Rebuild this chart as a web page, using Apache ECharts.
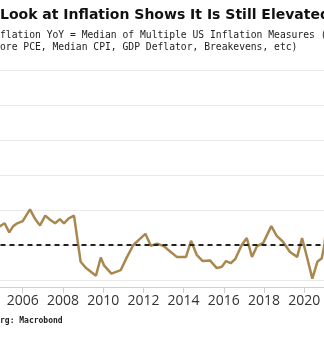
<!DOCTYPE html>
<html>
<head>
<meta charset="utf-8">
<style>html,body{margin:0;padding:0;background:#fff;}#c{width:324px;height:339px;}</style>
<script src="https://cdn.jsdelivr.net/npm/echarts@6/dist/echarts.min.js"></script>
</head>
<body>
<div id="c"></div>
<script>
const titleText = "Look at Inflation Shows It Is Still Elevated";
const subtitle1 = "flation YoY = Median of Multiple US Inflation Measures (";
const subtitle2 = "ore PCE, Median CPI, GDP Deflator, Breakevens, etc)";
const sourceText = "rg: Macrobond";

const dates = [2004.6, 2004.87, 2005.10, 2005.33, 2005.53, 2005.73, 2006.00, 2006.36, 2006.60, 2006.86,
  2007.12, 2007.36, 2007.61, 2007.85, 2008.05, 2008.29, 2008.55, 2008.88, 2009.15, 2009.64,
  2009.88, 2010.04, 2010.41, 2010.87, 2011.17, 2011.50, 2011.80, 2012.10, 2012.37, 2012.69,
  2013.03, 2013.36, 2013.66, 2014.12, 2014.37, 2014.65, 2014.95, 2015.31, 2015.65, 2015.90,
  2016.11, 2016.34, 2016.57, 2016.89, 2017.14, 2017.40, 2017.64, 2017.96, 2018.36, 2018.63,
  2018.93, 2019.29, 2019.65, 2019.89, 2020.15, 2020.40, 2020.65, 2020.87, 2021.00, 2021.12, 2021.37];
const inflation = [2.22, 2.27, 2.31, 2.18, 2.27, 2.31, 2.34, 2.51, 2.38, 2.28,
  2.42, 2.36, 2.31, 2.37, 2.31, 2.38, 2.42, 1.76, 1.67, 1.56,
  1.82, 1.71, 1.59, 1.64, 1.82, 2.00, 2.08, 2.16, 1.99, 2.02,
  1.98, 1.90, 1.83, 1.83, 2.06, 1.86, 1.77, 1.78, 1.67, 1.69,
  1.77, 1.74, 1.80, 2.00, 2.10, 1.83, 1.98, 2.03, 2.27, 2.13,
  2.05, 1.90, 1.83, 2.10, 1.81, 1.52, 1.76, 1.81, 2.00, 2.35, 3.00];
const targetLevel = 2.0;

const chart = echarts.init(document.getElementById('c'), null, {renderer: 'canvas'});
chart.setOption({
  animation: false,
  backgroundColor: '#fff',
  title: [
    {text: titleText, left: 0, top: 8, padding: 0, textStyle: {fontFamily: 'DejaVu Sans', fontWeight: 'bold', fontSize: 14, color: '#111'}},
    {text: subtitle1, left: 0, top: 30, padding: 0, textStyle: {fontFamily: 'DejaVu Sans Mono', fontWeight: 'normal', fontSize: 9.7, color: '#222'}},
    {text: subtitle2, left: 0, top: 42, padding: 0, textStyle: {fontFamily: 'DejaVu Sans Mono', fontWeight: 'normal', fontSize: 9.7, color: '#222'}},
    {text: sourceText, left: 0, top: 317, padding: 0, textStyle: {fontFamily: 'DejaVu Sans Mono', fontWeight: 'bold', fontSize: 8, color: '#222'}}
  ],
  grid: {left: -17.5, right: -20.5, top: 70, bottom: 59, outerBoundsMode: 'none', containLabel: false},
  xAxis: {
    type: 'value', min: 2004, max: 2022, interval: 2,
    offset: 7,
    axisLine: {show: true, lineStyle: {color: '#cfcfcf', width: 1}},
    axisTick: {show: true, length: 6, lineStyle: {color: '#cfcfcf'}},
    axisLabel: {formatter: v => String(v), fontFamily: "'Liberation Sans Narrow', 'Open Sans', sans-serif", fontSize: 14, color: '#333', margin: 7},
    splitLine: {show: false}
  },
  yAxis: {
    type: 'value', min: 1.5, max: 4.5, interval: 0.5,
    axisLine: {show: false}, axisTick: {show: false}, axisLabel: {show: false},
    splitLine: {show: true, lineStyle: {color: '#e9e9e9', width: 1}}
  },
  series: [{
    type: 'line',
    data: dates.map((d, i) => [d, inflation[i]]),
    symbol: 'none',
    lineStyle: {color: '#A9884F', width: 2.5},
    markLine: {
      silent: true, symbol: 'none', label: {show: false},
      lineStyle: {color: '#222', type: [5, 4], width: 2},
      data: [{yAxis: targetLevel}]
    }
  }]
});
</script>
</body>
</html>
